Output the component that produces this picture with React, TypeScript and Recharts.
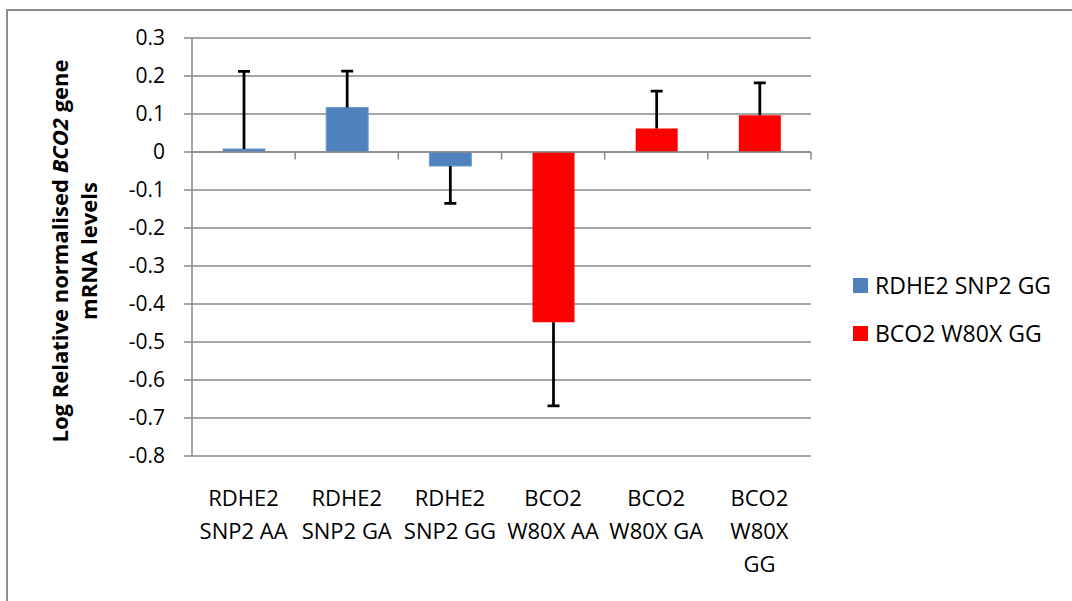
import { BarChart, Bar, XAxis, YAxis, CartesianGrid, ReferenceLine, Legend } from 'recharts';

const FONT = '"Open Sans", "Noto Sans", sans-serif';
const GRID = '#898989';

// categories and their wrapped tick labels
const categories = [
    'RDHE2 SNP2 AA', 'RDHE2 SNP2 GA', 'RDHE2 SNP2 GG',
    'BCO2 W80X AA', 'BCO2 W80X GA', 'BCO2 W80X GG',
];
const tickLines = [
    ['RDHE2', 'SNP2 AA'],
    ['RDHE2', 'SNP2 GA'],
    ['RDHE2', 'SNP2 GG'],
    ['BCO2', 'W80X AA'],
    ['BCO2', 'W80X GA'],
    ['BCO2', 'W80X', 'GG'],
];

// series names (legend order) and values
const seriesNames = ['RDHE2 SNP2 GG', 'BCO2 W80X GG'];
const rdheValues = [0.008, 0.117, -0.037, null, null, null];
const bco2Values = [null, null, null, -0.448, 0.062, 0.097];
// one-sided error, drawn away from zero
const errors = [0.204, 0.096, 0.098, 0.22, 0.098, 0.085];

const yTicks = [0.3, 0.2, 0.1, 0, -0.1, -0.2, -0.3, -0.4, -0.5, -0.6, -0.7, -0.8];
// category boundaries where the zero axis carries a tick mark
const edges = [1, 2, 3, 4, 5, 6];

const data = categories.map((name, i) => {
    const v = (rdheValues[i] ?? bco2Values[i]) as number;
    const end = v >= 0 ? v + errors[i] : v - errors[i];
    return {
        name,
        pos: i + 0.5,
        rdhe: rdheValues[i],
        bco2: bco2Values[i],
        value: v,
        errRange: [Math.min(v, end), Math.max(v, end)],
    };
});

const CategoryTick = (props: any) => {
    const { x, y, index } = props;
    const lines = tickLines[index] || [];
    return (
        <text x={x} y={y} textAnchor="middle" fontFamily={FONT} fontSize={22} fill="#000">
            {lines.map((l, i) => (
                <tspan key={i} x={x} dy={i === 0 ? 50 : 33}>{l}</tspan>
            ))}
        </text>
    );
};

const ErrorShape = (props: any) => {
    const { x, y, width, height, payload } = props;
    if (!payload || payload.value == null) return null;
    const cx = x + width / 2;
    const top = Math.min(y, y + height);
    const bottom = Math.max(y, y + height);
    const capY = payload.value >= 0 ? top : bottom;
    return (
        <g>
            <line x1={cx} x2={cx} y1={top} y2={bottom} stroke="#000" strokeWidth={2.75} />
            <line x1={cx - 6} x2={cx + 6} y1={capY} y2={capY} stroke="#000" strokeWidth={2.75} />
        </g>
    );
};

const YLabel = (props: any) => {
    const vb = props.viewBox || { x: 0, y: 38, width: 192, height: 418 };
    const cy = vb.y + vb.height / 2 + 4;
    const x1 = vb.x + 60;
    const x2 = vb.x + 89;
    return (
        <g fontFamily={FONT} fontSize={22} fontWeight="bold" fill="#000">
            <text x={x1} y={cy} dy="0.35em" textAnchor="middle" transform={`rotate(-90, ${x1}, ${cy})`}>
                Log Relative normalised <tspan fontStyle="italic">BCO2</tspan> gene
            </text>
            <text x={x2} y={cy} dy="0.35em" textAnchor="middle" transform={`rotate(-90, ${x2}, ${cy})`}>
                mRNA levels
            </text>
        </g>
    );
};

const LegendContent = (props: any) => {
    const items = (props.payload || [])
        .filter((e: any) => e.type !== 'none' && seriesNames.includes(e.value))
        .sort((a: any, b: any) => seriesNames.indexOf(a.value) - seriesNames.indexOf(b.value));
    return (
        <div style={{ fontFamily: FONT, fontSize: 23, color: '#000' }}>
            {items.map((e: any) => (
                <div key={e.value} style={{ display: 'flex', alignItems: 'center', height: 48 }}>
                    <span style={{ width: 15, height: 15, background: e.color, marginRight: 7, display: 'inline-block' }} />
                    <span>{e.value}</span>
                </div>
            ))}
        </div>
    );
};

export default function App() {
    return (
        <div style={{ position: 'fixed', left: 0, top: 0, width: 1072, height: 601, overflow: 'hidden', background: '#fff' }}>
            {/* outer chart frame, cut off on the right and bottom */}
            <div style={{ position: 'absolute', left: 6, top: 9, width: 1200, height: 800, border: '2px solid #8d8d8d' }} />
            <div style={{ position: 'absolute', left: 0, top: 0 }}>
                <BarChart width={1072} height={601} data={data} margin={{ top: 38, right: 261, bottom: 0, left: 0 }}>
                    <CartesianGrid xAxisId="blue" vertical={false} stroke={GRID} strokeWidth={1.5} />
                    <XAxis xAxisId="blue" dataKey="name" height={145} axisLine={false} tickLine={false}
                        tickSize={0} tickMargin={0} interval={0} tick={<CategoryTick />} />
                    <XAxis xAxisId="red" dataKey="name" hide />
                    <XAxis xAxisId="err" dataKey="name" hide />
                    <XAxis xAxisId="edges" dataKey="pos" type="number" domain={[0, categories.length]}
                        ticks={edges} hide allowDataOverflow />
                    <YAxis width={192} domain={[-0.8, 0.3]} ticks={yTicks} interval={0} allowDataOverflow
                        tickFormatter={(v: number) => String(v)}
                        axisLine={{ stroke: GRID, strokeWidth: 1.5 }}
                        tickLine={{ stroke: GRID, strokeWidth: 1.5 }} tickSize={8} tickMargin={19}
                        tick={{ fill: '#000', fontSize: 21, fontFamily: FONT }}
                        label={{ content: <YLabel /> }} />
                    <ReferenceLine xAxisId="blue" y={0} stroke={GRID} strokeWidth={1.5} />
                    {edges.map((e) => (
                        <ReferenceLine key={e} xAxisId="edges" segment={[{ x: e, y: 0 }, { x: e, y: -0.02 }]}
                            stroke={GRID} strokeWidth={1.5} ifOverflow="visible" />
                    ))}
                    <Bar xAxisId="blue" dataKey="rdhe" name={seriesNames[0]} fill="#4F81BD" stroke="#6d9bd1"
                        strokeWidth={1} barSize={42} isAnimationActive={false} />
                    <Bar xAxisId="red" dataKey="bco2" name={seriesNames[1]} fill="#FF0000" barSize={42}
                        isAnimationActive={false} />
                    <Bar xAxisId="err" dataKey="errRange" name="error" legendType="none" barSize={42}
                        shape={<ErrorShape />} isAnimationActive={false} />
                    <Legend layout="vertical" align="center" verticalAlign="middle" content={<LegendContent />}
                        wrapperStyle={{ left: 853, top: 261, width: 219, height: 96 }} />
                </BarChart>
            </div>
        </div>
    );
}
